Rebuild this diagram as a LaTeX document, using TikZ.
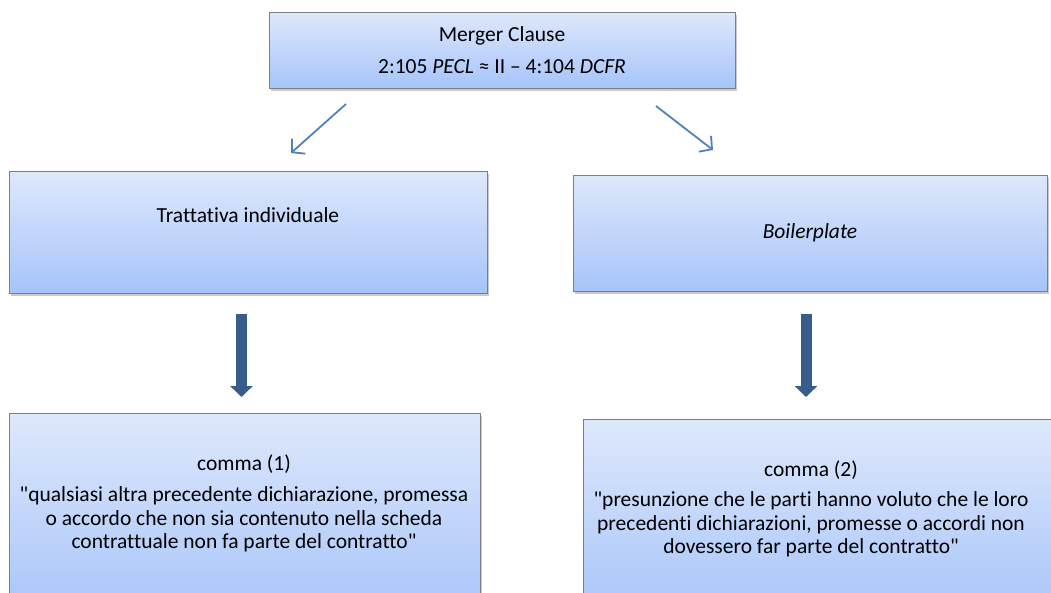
\documentclass[tikz,border=0pt]{standalone}
\usepackage{fontspec}
\setmainfont[Ligatures={NoCommon,TeXOff}]{Carlito}
\usepackage{xcolor}
\usetikzlibrary{arrows.meta,shadows}
\definecolor{boxtop}{RGB}{222,232,251}
\definecolor{boxbot}{RGB}{166,196,250}
\definecolor{boxline}{RGB}{125,125,130}
\definecolor{thinblue}{RGB}{79,129,189}
\definecolor{darkblue}{RGB}{56,93,138}
\tikzset{
  card/.style={draw=boxline, line width=1pt, top color=boxtop, bottom color=boxbot,
               drop shadow={shadow xshift=1.5pt, shadow yshift=-3pt, opacity=0.35, fill=black!60},
               inner sep=0pt},
  txt/.style={align=center, font=\fontsize{21.5}{23.5}\selectfont, inner sep=0pt},
  split/.style={-{Straight Barb[length=9pt, width=20pt]}, line width=1.8pt, thinblue},
  down/.style={-{Triangle[length=11pt, width=22pt]}, line width=11pt, darkblue}
}
\begin{document}
\begin{tikzpicture}[x=1pt, y=-1pt]
    \useasboundingbox (0,0) rectangle (1051,592);
    % boxes
    \node[card, minimum width=466pt, minimum height=76pt] (merger) at (502,50) {};
    \node[card, minimum width=478pt, minimum height=122pt] (indiv) at (248,232) {};
    \node[card, minimum width=474pt, minimum height=116pt] (boiler) at (810,233) {};
    \node[card, minimum width=471pt, minimum height=207pt] (comma1) at (244.5,516.5) {};
    \node[card, minimum width=475pt, minimum height=201pt] (comma2) at (820.5,519.5) {};
    % texts
    \node[txt] (mergertxt) at (merger.center) {Merger Clause\\[9pt]
      2:105 \textit{PECL} ≈ II – 4:104 \textit{DCFR}};
    \node[txt] (indivtxt) at (248,215) {Trattativa individuale};
    \node[txt] (boilertxt) at (boiler.center) {\textit{Boilerplate}};
    \node[txt, anchor=north] (comma1txt) at (244,455) {comma (1)\\[7.5pt]
      "qualsiasi altra precedente dichiarazione, promessa\\
      o accordo che non sia contenuto nella scheda\\
      contrattuale non fa parte del contratto"};
    \node[txt, anchor=north] (comma2txt) at (811,461) {comma (2)\\[6.5pt]
      "presunzione che le parti hanno voluto che le loro\\
      precedenti dichiarazioni, promesse o accordi non\\
      dovessero far parte del contratto"};
    % arrows
    \coordinate (ls) at (346,104); \coordinate (le) at (291,153);
    \coordinate (rs) at (656,106); \coordinate (re) at (713,150);
    \draw[split] (ls) -- (le);
    \draw[split] (rs) -- (re);
    \coordinate (d1s) at (241.5,314); \coordinate (d1e) at (241.5,397);
    \coordinate (d2s) at (806,314); \coordinate (d2e) at (806,397);
    \draw[down] (d1s) -- (d1e);
    \draw[down] (d2s) -- (d2e);
  \end{tikzpicture}
\end{document}
